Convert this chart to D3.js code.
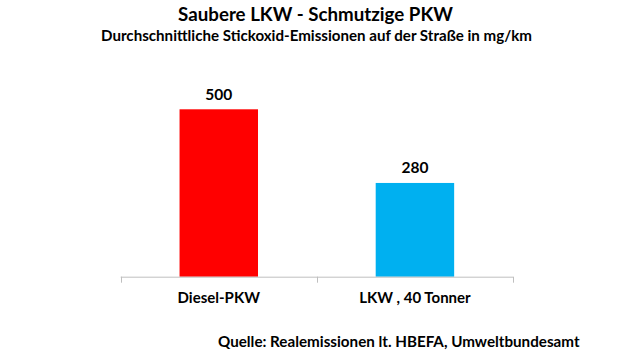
<!DOCTYPE html>
<html><head><meta charset="utf-8">
<script src="https://cdn.jsdelivr.net/npm/d3@7"></script>
<style>body{margin:0;background:#fff}svg{display:block}</style>
</head><body>
<svg id="c" width="640" height="360"></svg>
<script>
const categories = ["Diesel-PKW", "LKW , 40 Tonner"];
const values = [500, 280];
const colors = ["#FF0000", "#00B0F0"];
const title = "Saubere LKW - Schmutzige PKW";
const subtitle = "Durchschnittliche Stickoxid-Emissionen auf der Straße in mg/km";
const source = "Quelle: Realemissionen lt. HBEFA, Umweltbundesamt";

const svg = d3.select("#c");
const font = "Lato, 'Open Sans', sans-serif";
const x0 = 120.7, x1 = 513, yBase = 276.7, yTop = 109.3;

const x = d3.scaleBand().domain(categories).range([x0, x1]).paddingInner(0.6).paddingOuter(0.3);
const y = d3.scaleLinear().domain([0, 500]).range([yBase, yTop]);

// fit text to target width
function fitText(sel, target) {
  const node = sel.node();
  const w = node.getComputedTextLength();
  const fs = parseFloat(sel.attr("font-size"));
  sel.attr("font-size", fs * target / w);
}

const t = svg.append("text").attr("x", 315.5).attr("y", 20.5).attr("text-anchor", "middle")
  .attr("font-family", font).attr("font-weight", "bold").attr("font-size", 19).attr("fill", "#000").text(title);
fitText(t, 275);
const st = svg.append("text").attr("x", 316.5).attr("y", 41).attr("text-anchor", "middle")
  .attr("font-family", font).attr("font-weight", "bold").attr("font-size", 14).attr("fill", "#000").text(subtitle);
fitText(st, 431);

svg.selectAll("rect.bar").data(values).join("rect").attr("class", "bar")
  .attr("x", (d, i) => x(categories[i]))
  .attr("width", x.bandwidth())
  .attr("y", d => y(d))
  .attr("height", d => y(0) - y(d))
  .attr("fill", (d, i) => colors[i]);

svg.selectAll("text.val").data(values).join("text").attr("class", "val")
  .attr("x", (d, i) => x(categories[i]) + x.bandwidth() / 2)
  .attr("y", d => y(d) - 9.5)
  .attr("text-anchor", "middle").attr("font-family", font).attr("font-weight", "bold")
  .attr("font-size", 15.5).attr("fill", "#000").text(d => d);

// axis
const axis = d3.axisBottom(x).tickSize(0).tickSizeOuter(0).tickFormat("");
const g = svg.append("g").attr("transform", `translate(0,${yBase})`).call(axis);
g.select(".domain").remove();
g.append("line").attr("x1", x0).attr("x2", x1).attr("y1", 0.5).attr("y2", 0.5).attr("stroke", "#BFBFBF").attr("stroke-width", 1);
const tickPos = [x0, (x0 + x1) / 2, x1];
g.selectAll("line.tk").data(tickPos).join("line").attr("class", "tk")
  .attr("x1", d => Math.round(d) + 0.5).attr("x2", d => Math.round(d) + 0.5)
  .attr("y1", 0).attr("y2", 6).attr("stroke", "#BFBFBF");

svg.selectAll("text.cat").data(categories).join("text").attr("class", "cat")
  .attr("x", d => x(d) + x.bandwidth() / 2)
  .attr("y", 302.7)
  .attr("text-anchor", "middle").attr("font-family", font).attr("font-weight", "bold")
  .attr("font-size", 15).attr("fill", "#000").text(d => d);

const so = svg.append("text").attr("x", 218).attr("y", 346.7)
  .attr("font-family", font).attr("font-weight", "bold").attr("font-size", 15).attr("fill", "#000").text(source);
fitText(so, 362);
</script>
</body></html>
